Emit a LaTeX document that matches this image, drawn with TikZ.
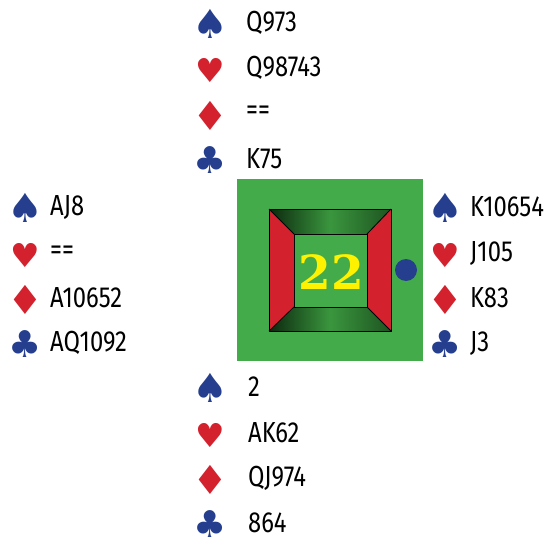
\documentclass[tikz,border=0pt]{standalone}
\usepackage{fontspec}
\setmainfont[FakeStretch=0.82]{Fira Sans}
\newfontfamily\suitfont{DejaVu Sans}
\newfontfamily\numfont{DejaVu Serif}
\definecolor{tablegreen}{RGB}{67,171,74}
\definecolor{suitred}{RGB}{211,34,46}
\definecolor{suitblue}{RGB}{37,63,142}
\definecolor{darkgr}{RGB}{12,40,14}
\definecolor{midgr}{RGB}{58,150,62}
\definecolor{numyellow}{RGB}{255,242,0}
\tikzset{
  card/.style={anchor=west, inner sep=0pt, font=\fontsize{29}{29}\selectfont, text=black},
  spadesym/.style={inner sep=0pt, text=suitblue, font=\suitfont\fontsize{40}{40}\selectfont},
  heartsym/.style={inner sep=0pt, text=suitred, font=\suitfont\fontsize{33}{33}\selectfont},
  diamsym/.style={inner sep=0pt, text=suitred, font=\suitfont\fontsize{40}{40}\selectfont},
  clubsym/.style={inner sep=0pt, text=suitblue, font=\suitfont\fontsize{37}{37}\selectfont},
  frameedge/.style={draw=black, line width=0.8pt, line join=miter},
}
\begin{document}
\begin{tikzpicture}[x=1pt,y=-1pt]
\useasboundingbox (0,0) rectangle (552,538);
\fill[white] (0,0) rectangle (552,538);
% table
\fill[tablegreen] (237,179) rectangle (423,361);
% frame
\coordinate (o1) at (269,209); \coordinate (o2) at (391,209);
\coordinate (o3) at (391,331); \coordinate (o4) at (269,331);
\coordinate (i1) at (294,234); \coordinate (i2) at (367,234);
\coordinate (i3) at (367,307); \coordinate (i4) at (294,307);
\shade[left color=darkgr, right color=darkgr!60!midgr, middle color=midgr] (o1) -- (o2) -- (i2) -- (i1) -- cycle;
\shade[left color=darkgr, right color=darkgr!60!midgr, middle color=midgr] (o4) -- (i4) -- (i3) -- (o3) -- cycle;
\fill[suitred] (o1) -- (i1) -- (i4) -- (o4) -- cycle;
\fill[suitred] (o2) -- (o3) -- (i3) -- (i2) -- cycle;
\fill[tablegreen] (i1) rectangle (i3);
\draw[frameedge] (o1) rectangle (o3);
\draw[frameedge] (i1) rectangle (i3);
\draw[frameedge] (o1) -- (i1) (o2) -- (i2) (o3) -- (i3) (o4) -- (i4);
\node[inner sep=0pt, text=numyellow, font=\numfont\bfseries\fontsize{47}{47}\selectfont] (num) at (331,272) {22};
\fill[suitblue] (406,270) circle (11);
% North
\node[spadesym] (ns) at (210,24) {♠};
\node[heartsym] (nh) at (210,70) {♥};
\node[diamsym] (nd) at (210,116) {♦};
\node[clubsym] (nc) at (210,160) {♣};
\node[card] (nst) at (246,23) {Q973};
\node[card] (nht) at (246,68) {Q98743};
\node[card] (ndt) at (246,113) {==};
\node[card] (nct) at (246,159) {K75};
% West
\node[spadesym] (ws) at (25,208) {♠};
\node[heartsym] (wh) at (25,255) {♥};
\node[diamsym] (wd) at (25,300) {♦};
\node[clubsym] (wc) at (25,344) {♣};
\node[card] (wst) at (50,207) {AJ8};
\node[card] (wht) at (50,253) {==};
\node[card] (wdt) at (50,298) {A10652};
\node[card] (wct) at (50,343) {AQ1092};
% East
\node[spadesym] (es) at (445,208) {♠};
\node[heartsym] (eh) at (445,255) {♥};
\node[diamsym] (ed) at (445,300) {♦};
\node[clubsym] (ec) at (445,344) {♣};
\node[card] (est) at (470,207) {K10654};
\node[card] (eht) at (470,253) {J105};
\node[card] (edt) at (470,298) {K83};
\node[card] (ect) at (470,343) {J3};
% South
\node[spadesym] (ss) at (210,388) {♠};
\node[heartsym] (sh) at (210,435) {♥};
\node[diamsym] (sd) at (210,480) {♦};
\node[clubsym] (sc) at (210,524) {♣};
\node[card] (sst) at (248,387) {2};
\node[card] (sht) at (248,433) {AK62};
\node[card] (sdt) at (248,478) {QJ974};
\node[card] (sct) at (248,523) {864};
\end{tikzpicture}
\end{document}
